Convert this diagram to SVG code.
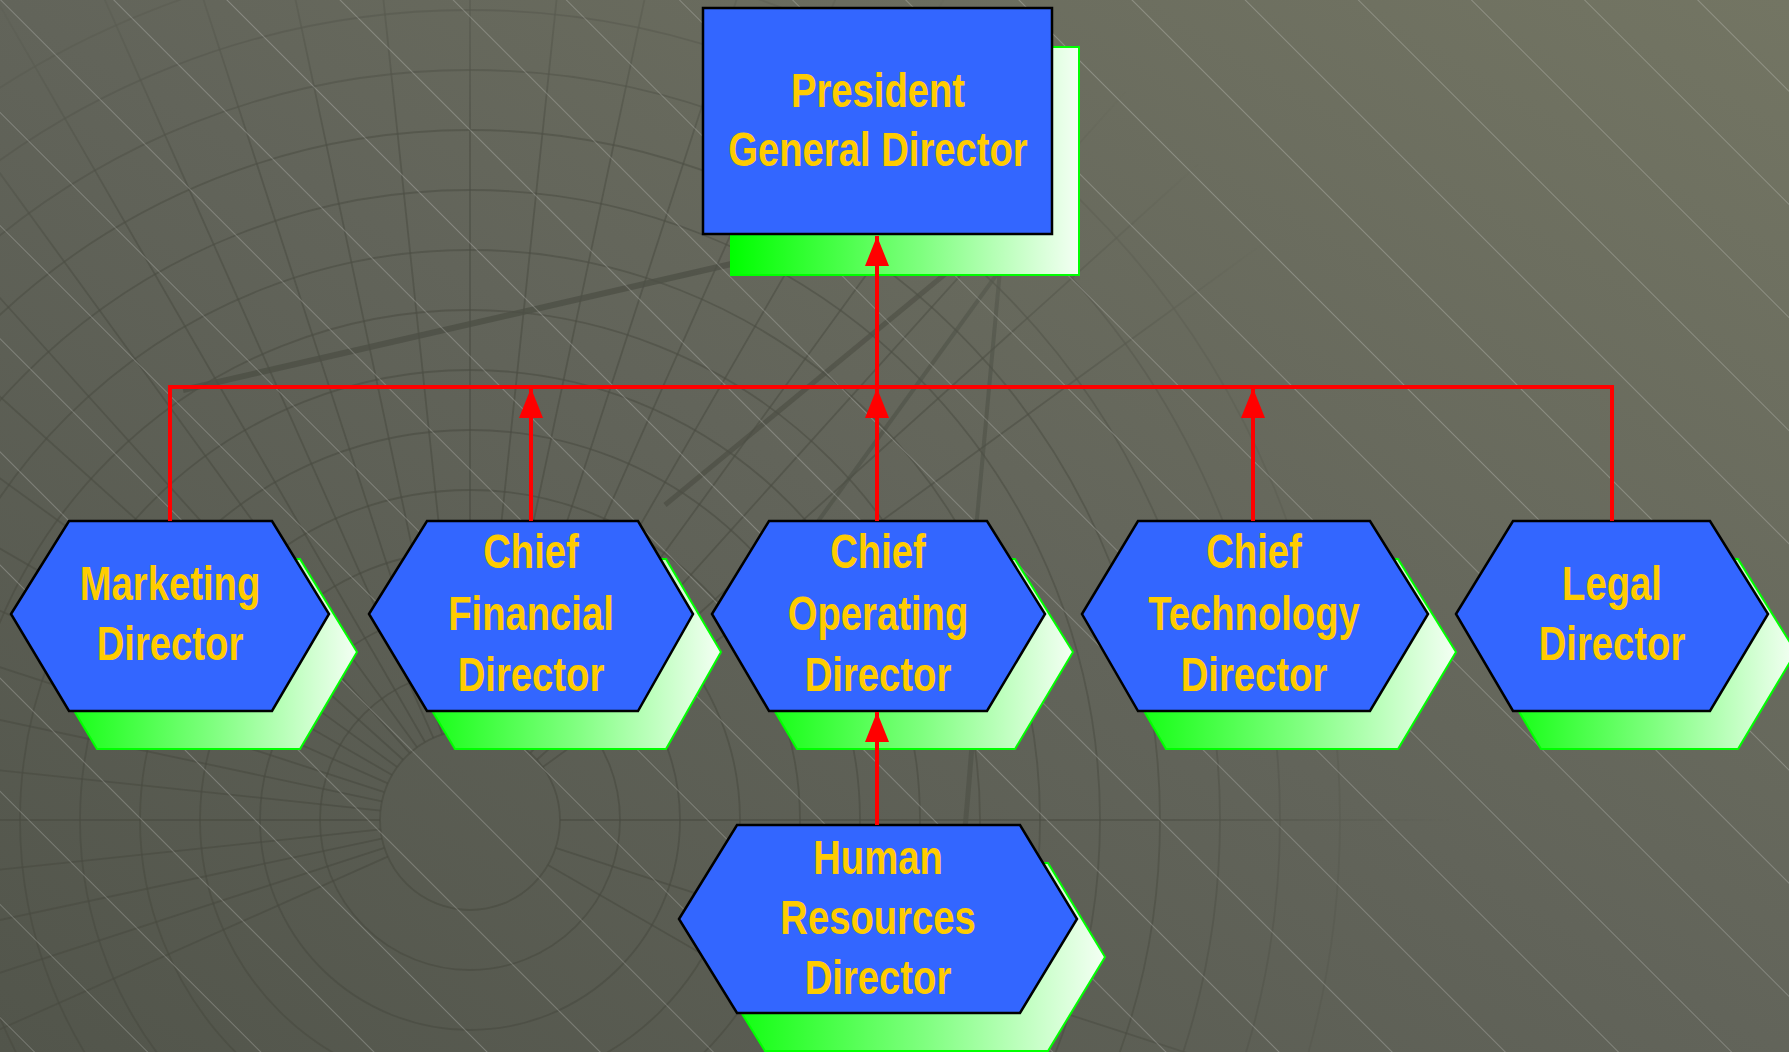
<svg xmlns="http://www.w3.org/2000/svg" width="1789" height="1052" viewBox="0 0 1789 1052">
  <defs>
    <linearGradient id="bg" x1="1" y1="0" x2="0" y2="1">
      <stop offset="0" stop-color="#737563"/>
      <stop offset="0.5" stop-color="#62645a"/>
      <stop offset="1" stop-color="#52554b"/>
    </linearGradient>
    <pattern id="diag" width="80" height="20" patternUnits="userSpaceOnUse" patternTransform="rotate(-45)">
      <line x1="0.5" y1="0" x2="0.5" y2="20" stroke="#ffffff" stroke-width="1" stroke-opacity="0.22"/>
    </pattern>
    <radialGradient id="meshFade" cx="470" cy="820" r="980" gradientUnits="userSpaceOnUse">
      <stop offset="0" stop-color="#fff" stop-opacity="1"/>
      <stop offset="0.7" stop-color="#fff" stop-opacity="0.8"/>
      <stop offset="1" stop-color="#fff" stop-opacity="0"/>
    </radialGradient>
    <mask id="meshMask" maskUnits="userSpaceOnUse" x="0" y="0" width="1789" height="1052">
      <rect x="0" y="0" width="1789" height="1052" fill="url(#meshFade)"/>
    </mask>
    <linearGradient id="shade" x1="0" y1="0" x2="1" y2="0">
      <stop offset="0" stop-color="#00ff00"/>
      <stop offset="0.55" stop-color="#80ff80"/>
      <stop offset="1" stop-color="#f4fff4"/>
    </linearGradient>
    <marker id="arrow" markerUnits="userSpaceOnUse" markerWidth="30" markerHeight="24" refX="30" refY="12" orient="auto" viewBox="0 0 30 24">
      <path d="M0,0 L30,12 L0,24 Z" fill="#ff0000"/>
    </marker>
    <style>
      .shadow { fill: url(#shade); stroke: #00ff00; stroke-width: 2; }
      .shape { fill: #3366ff; stroke: #000000; stroke-width: 2.5; }
      .label { font-family: "Liberation Sans", Arial, sans-serif; font-weight: bold; font-size: 49px; fill: #ffcc00; text-anchor: middle; }
      .conn { fill: none; stroke: #ff0000; stroke-width: 4; }
      .mesh { fill: none; stroke: #474a3f; stroke-width: 1.8; stroke-opacity: 0.6; }
    </style>
  </defs>

  <g id="background">
    <rect x="0" y="0" width="1789" height="1052" fill="url(#bg)"/>
    <g mask="url(#meshMask)">
      <g class="mesh">
        <circle cx="470" cy="820" r="90"/>
        <circle cx="470" cy="820" r="150"/>
        <circle cx="470" cy="820" r="210"/>
        <circle cx="470" cy="820" r="270"/>
        <circle cx="470" cy="820" r="330"/>
        <circle cx="470" cy="820" r="390"/>
        <circle cx="470" cy="820" r="450"/>
        <circle cx="470" cy="820" r="510"/>
        <circle cx="470" cy="820" r="570"/>
        <circle cx="470" cy="820" r="630"/>
        <circle cx="470" cy="820" r="690"/>
        <circle cx="470" cy="820" r="750"/>
        <circle cx="470" cy="820" r="810"/>
        <circle cx="470" cy="820" r="870"/>
      </g>
      <g class="mesh" transform="translate(470,820)" stroke-dasharray="0 90 2000">
        <path d="M0,0 L-1000,0 M0,0 L-995,-105 M0,0 L-978,-208 M0,0 L-951,-309 M0,0 L-914,-407 M0,0 L-866,-500 M0,0 L-809,-588 M0,0 L-743,-669 M0,0 L-669,-743 M0,0 L-588,-809 M0,0 L-500,-866 M0,0 L-407,-914 M0,0 L-309,-951 M0,0 L-208,-978 M0,0 L-105,-995 M0,0 L0,-1000 M0,0 L105,-995 M0,0 L208,-978 M0,0 L309,-951 M0,0 L407,-914 M0,0 L500,-866 M0,0 L588,-809 M0,0 L669,-743 M0,0 L743,-669 M0,0 L809,-588 M0,0 L-995,105 M0,0 L-978,208 M0,0 L-951,309 M0,0 L-914,407 M0,0 L866,500 M0,0 L951,309 M0,0 L1000,0"/>
      </g>
      <path d="M183,390 L740,262" stroke="#4a4c42" stroke-width="6" stroke-opacity="0.8" fill="none"/>
      <path d="M665,505 L950,270" stroke="#4a4c42" stroke-width="5" stroke-opacity="0.7" fill="none"/>
      <path d="M790,560 L1000,270" stroke="#4a4c42" stroke-width="4" stroke-opacity="0.6" fill="none"/>
      <path d="M975,540 L1000,270" stroke="#4a4c42" stroke-width="4" stroke-opacity="0.6" fill="none"/>
      <path d="M940,1052 C960,900 970,780 980,640" stroke="#4a4c42" stroke-width="5" stroke-opacity="0.6" fill="none"/>
    </g>
    <rect x="0" y="0" width="1789" height="1052" fill="url(#diag)"/>
  </g>

  <g id="president">
    <rect class="shadow" x="731" y="47" width="348" height="228"/>
    <rect class="shape" x="703" y="8" width="349" height="226"/>
    <text class="label" transform="translate(878,0) scale(0.78,1)"><tspan x="0" y="107">President</tspan><tspan x="0" y="166">General Director</tspan></text>
  </g>

  <g id="marketing">
    <polygon class="shadow" transform="translate(28,38)" points="11,614 69,521 272,521 329,614 272,711 69,711"/>
    <polygon class="shape" points="11,614 69,521 272,521 329,614 272,711 69,711"/>
    <text class="label" transform="translate(170,0) scale(0.78,1)"><tspan x="0" y="600">Marketing</tspan><tspan x="0" y="660">Director</tspan></text>
  </g>

  <g id="cfo">
    <polygon class="shadow" transform="translate(28,38)" points="369,614 427,521 638,521 693,614 638,711 427,711"/>
    <polygon class="shape" points="369,614 427,521 638,521 693,614 638,711 427,711"/>
    <text class="label" transform="translate(531,0) scale(0.78,1)"><tspan x="0" y="568">Chief</tspan><tspan x="0" y="630">Financial</tspan><tspan x="0" y="691">Director</tspan></text>
  </g>

  <g id="coo">
    <polygon class="shadow" transform="translate(28,38)" points="712,614 769,521 987,521 1045,614 987,711 769,711"/>
    <polygon class="shape" points="712,614 769,521 987,521 1045,614 987,711 769,711"/>
    <text class="label" transform="translate(878,0) scale(0.78,1)"><tspan x="0" y="568">Chief</tspan><tspan x="0" y="630">Operating</tspan><tspan x="0" y="691">Director</tspan></text>
  </g>

  <g id="cto">
    <polygon class="shadow" transform="translate(28,38)" points="1082,614 1138,521 1370,521 1428,614 1370,711 1138,711"/>
    <polygon class="shape" points="1082,614 1138,521 1370,521 1428,614 1370,711 1138,711"/>
    <text class="label" transform="translate(1254,0) scale(0.78,1)"><tspan x="0" y="568">Chief</tspan><tspan x="0" y="630">Technology</tspan><tspan x="0" y="691">Director</tspan></text>
  </g>

  <g id="legal">
    <polygon class="shadow" transform="translate(28,38)" points="1456,614 1513,521 1710,521 1768,614 1710,711 1513,711"/>
    <polygon class="shape" points="1456,614 1513,521 1710,521 1768,614 1710,711 1513,711"/>
    <text class="label" transform="translate(1612,0) scale(0.78,1)"><tspan x="0" y="600">Legal</tspan><tspan x="0" y="660">Director</tspan></text>
  </g>

  <g id="hr">
    <polygon class="shadow" transform="translate(28,38)" points="679,919 737,825 1020,825 1077,919 1020,1013 737,1013"/>
    <polygon class="shape" points="679,919 737,825 1020,825 1077,919 1020,1013 737,1013"/>
    <text class="label" transform="translate(878,0) scale(0.78,1)"><tspan x="0" y="874">Human</tspan><tspan x="0" y="934">Resources</tspan><tspan x="0" y="994">Director</tspan></text>
  </g>

  <g id="connectors">
    <path class="conn" d="M170,521 V387 H1612 V521"/>
    <path class="conn" d="M877,387 V236" marker-end="url(#arrow)"/>
    <path class="conn" d="M531,521 V388" marker-end="url(#arrow)"/>
    <path class="conn" d="M877,521 V388" marker-end="url(#arrow)"/>
    <path class="conn" d="M1253,521 V388" marker-end="url(#arrow)"/>
    <path class="conn" d="M877,825 V712" marker-end="url(#arrow)"/>
  </g>
</svg>
